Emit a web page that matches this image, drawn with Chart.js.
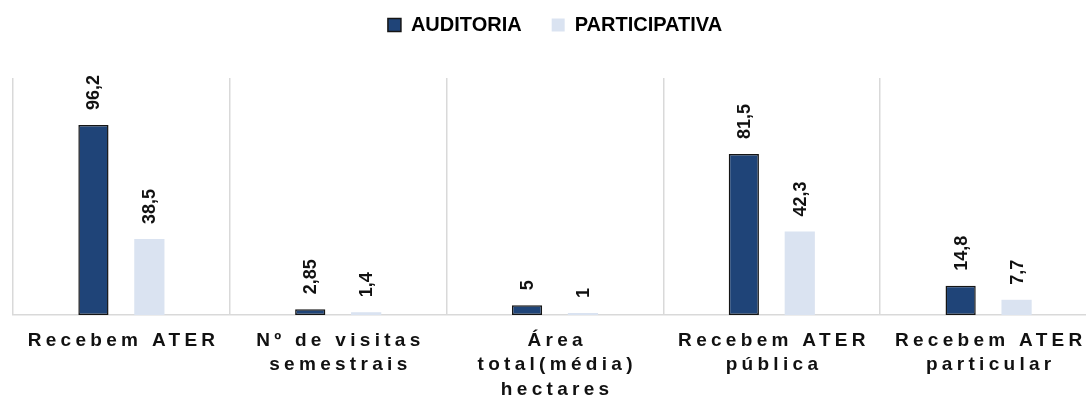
<!DOCTYPE html>
<html>
<head>
<meta charset="utf-8">
<script src="https://cdn.jsdelivr.net/npm/chart.js@4"></script>
<style>
  html, body { margin: 0; padding: 0; background: #ffffff; overflow: hidden; }
  #wrap { position: relative; width: 1100px; height: 396px; }
</style>
</head>
<body>
<div id="wrap"><canvas id="chart"></canvas></div>
<script>
// Categories (multi-line labels) and values for each group
const categories = [
  ['Recebem ATER'],
  ['Nº de visitas', 'semestrais'],
  ['Área', 'total(média)', 'hectares'],
  ['Recebem ATER', 'pública'],
  ['Recebem ATER', 'particular']
];
const seriesNames = ['AUDITORIA', 'PARTICIPATIVA'];
const auditoria = [96.2, 2.85, 5, 81.5, 14.8];
const participativa = [38.5, 1.4, 1, 42.3, 7.7];

const DARK = '#1f4478';
const LIGHT = '#dae3f1';
const LABEL_SPACING = 4.3;

const fmt = v => String(v).replace('.', ',');

// Rotated value labels above each bar
const valueLabels = {
  id: 'valueLabels',
  afterDatasetsDraw(chart) {
    const ctx = chart.ctx;
    chart.data.datasets.forEach((ds, i) => {
      const meta = chart.getDatasetMeta(i);
      meta.data.forEach((bar, j) => {
        ctx.save();
        ctx.translate(bar.x, bar.y - 15);
        ctx.rotate(-Math.PI / 2);
        ctx.font = 'bold 18px "Liberation Sans", Arial, sans-serif';
        ctx.fillStyle = '#111111';
        ctx.textAlign = 'left';
        ctx.textBaseline = 'middle';
        ctx.fillText(fmt(ds.data[j]), 0, 1);
        ctx.restore();
      });
    });
  }
};

// Extra room under the legend, and letter-spaced category labels
const layoutTweaks = {
  id: 'layoutTweaks',
  beforeInit(chart) {
    const legend = chart.legend;
    const fit = legend.fit;
    legend.fit = function () {
      fit.call(this);
      this.height = 93;
    };
  },
  afterLayout(chart) {
    const x = chart.scales.x;
    if (!x._spaced) {
      const orig = x.drawLabels;
      x.drawLabels = function (area) {
        const ctx = this.ctx;
        ctx.save();
        ctx.letterSpacing = LABEL_SPACING + 'px';
        // trailing spacing after the last glyph would pull centred text left
        ctx.translate(LABEL_SPACING / 2, 0);
        orig.call(this, area);
        ctx.restore();
      };
      x._spaced = true;
    }
  }
};

new Chart(document.getElementById('chart'), {
  type: 'bar',
  data: {
    labels: categories,
    datasets: [
      {
        label: seriesNames[0],
        data: auditoria,
        backgroundColor: DARK,
        borderColor: '#151515',
        borderWidth: 1.5,
        borderSkipped: false,
        categoryPercentage: 0.516,
        barPercentage: 0.54
      },
      {
        label: seriesNames[1],
        data: participativa,
        backgroundColor: LIGHT,
        borderWidth: 0,
        categoryPercentage: 0.516,
        barPercentage: 0.54
      }
    ]
  },
  options: {
    responsive: true,
    maintainAspectRatio: false,
    animation: false,
    layout: { padding: { left: 13, right: 3, top: -15, bottom: 0 } },
    plugins: {
      tooltip: { enabled: false },
      legend: {
        position: 'top',
        labels: {
          color: '#000000',
          font: { family: '"Liberation Sans", Arial, sans-serif', size: 20, weight: 'bold' },
          boxWidth: 13,
          boxHeight: 13,
          padding: 30
        }
      }
    },
    scales: {
      x: {
        offset: true,
        grid: {
          offset: true,
          color: '#d9d9d9',
          lineWidth: 1.5,
          drawTicks: false
        },
        border: { color: '#d9d9d9', width: 1.5 },
        ticks: {
          color: '#111111',
          font: { family: '"Liberation Sans", Arial, sans-serif', size: 19, weight: 'bold', lineHeight: 1.3 },
          padding: 13,
          maxRotation: 0,
          minRotation: 0,
          autoSkip: false
        },
        afterFit(scale) { scale.height = 81; }
      },
      y: {
        display: false,
        min: 0,
        max: 120
      }
    }
  },
  plugins: [valueLabels, layoutTweaks]
});
</script>
</body>
</html>
